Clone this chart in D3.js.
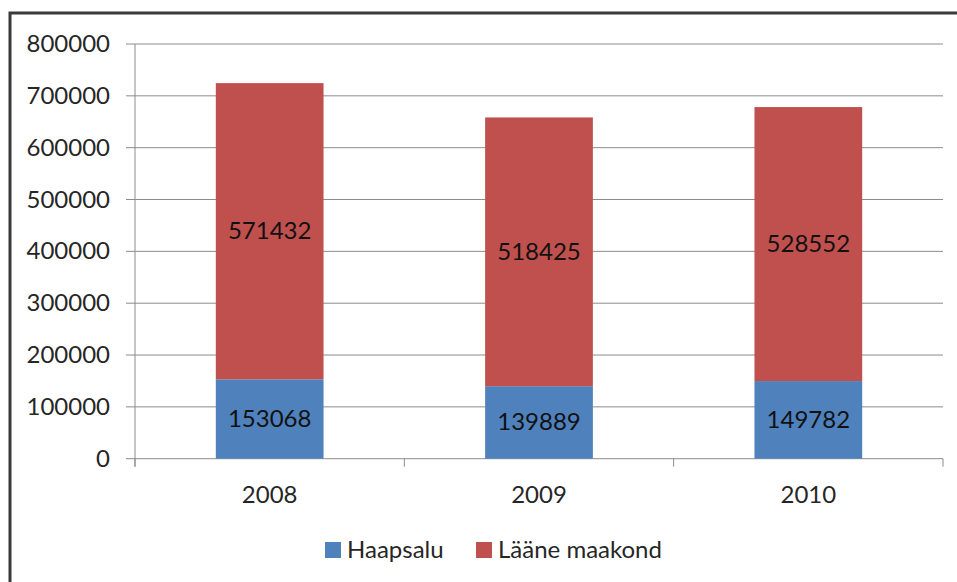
<!DOCTYPE html>
<html>
<head>
<meta charset="utf-8">
<script src="https://cdn.jsdelivr.net/npm/d3@7"></script>
<style>
  body { margin: 0; background: #fff; }
  svg { display: block; font-family: Lato, "Open Sans", sans-serif; }
</style>
</head>
<body>
<script>
'use strict';

// chart data
const years = ["2008", "2009", "2010"];
const seriesNames = ["Haapsalu", "Lääne maakond"];
const haapsalu = [153068, 139889, 149782];
const laane = [571432, 518425, 528552];
const yTicks = [0, 100000, 200000, 300000, 400000, 500000, 600000, 700000, 800000];
const colors = ["#4F81BD", "#C0504D"];

(function() {
  const width = 957, height = 582;
  const plotLeft = 135, plotRight = 943, plotTop = 44, plotBottom = 458.7;
  const fontSize = '24px';

  let svg = d3.select('body').append('svg')
    .attr('width', width)
    .attr('height', height);

  // outer frame
  svg.append('rect')
    .attr('x', 10).attr('y', 13)
    .attr('width', width + 20).attr('height', height + 20)
    .style('fill', '#fff')
    .style('stroke', '#3a3a3a')
    .style('stroke-width', 3);

  let x = d3.scaleBand().domain(years).range([plotLeft, plotRight]).padding(0);
  let y = d3.scaleLinear().domain([0, 800000]).range([plotBottom, plotTop]);

  // gridlines
  svg.append('g').selectAll('line')
    .data(yTicks)
    .enter().append('line')
    .attr('x1', plotLeft - 9).attr('x2', plotRight)
    .attr('y1', d => y(d)).attr('y2', d => y(d))
    .style('stroke', '#8c8c8c')
    .style('stroke-width', 1);

  // y axis line
  svg.append('line')
    .attr('x1', plotLeft).attr('x2', plotLeft)
    .attr('y1', plotTop).attr('y2', plotBottom + 8)
    .style('stroke', '#8c8c8c');

  // x axis category ticks
  let xTickPos = years.map(d => x(d)).concat([plotRight]);
  svg.append('g').selectAll('line')
    .data(xTickPos)
    .enter().append('line')
    .attr('x1', d => d).attr('x2', d => d)
    .attr('y1', plotBottom).attr('y2', plotBottom + 8)
    .style('stroke', '#8c8c8c');

  // y tick labels
  svg.append('g').selectAll('text')
    .data(yTicks)
    .enter().append('text')
    .attr('x', 110)
    .attr('y', d => y(d) + 8)
    .attr('text-anchor', 'end')
    .style('font-size', fontSize)
    .style('fill', '#262626')
    .text(d => d);

  // x tick labels
  svg.append('g').selectAll('text')
    .data(years)
    .enter().append('text')
    .attr('x', d => x(d) + x.bandwidth() / 2)
    .attr('y', 503)
    .attr('text-anchor', 'middle')
    .style('font-size', fontSize)
    .style('fill', '#262626')
    .text(d => d);

  // stacked bars
  let stackData = years.map((yr, i) => ({ year: yr, h: haapsalu[i], l: laane[i] }));
  let stacked = d3.stack().keys(['h', 'l'])(stackData);
  let barW = x.bandwidth() * 0.4;

  stacked.forEach((layer, k) => {
    let g = svg.append('g');
    g.selectAll('rect')
      .data(layer)
      .enter().append('rect')
      .attr('x', d => x(d.data.year) + (x.bandwidth() - barW) / 2)
      .attr('width', barW)
      .attr('y', d => y(d[1]))
      .attr('height', d => y(d[0]) - y(d[1]))
      .style('fill', colors[k]);
    g.selectAll('text')
      .data(layer)
      .enter().append('text')
      .attr('x', d => x(d.data.year) + x.bandwidth() / 2)
      .attr('y', d => y((d[0] + d[1]) / 2) + 8)
      .attr('text-anchor', 'middle')
      .style('font-size', fontSize)
      .style('fill', '#111')
      .text(d => d[1] - d[0]);
  });

  // legend
  let legendX = [325, 476];
  let legend = svg.selectAll('.legend')
    .data(seriesNames)
    .enter().append('g')
    .attr('class', 'legend')
    .attr('transform', (d, i) => 'translate(' + legendX[i] + ',542)');
  legend.append('rect')
    .attr('width', 16).attr('height', 16)
    .style('fill', (d, i) => colors[i]);
  legend.append('text')
    .attr('x', 22).attr('y', 16)
    .style('font-size', fontSize)
    .style('fill', '#262626')
    .text(d => d);
})();
</script>
</body>
</html>
